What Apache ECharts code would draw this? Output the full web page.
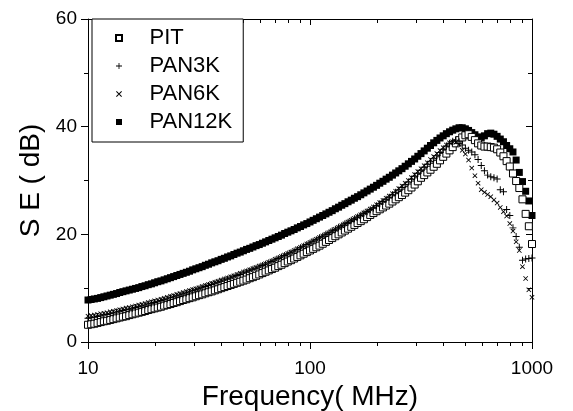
<!DOCTYPE html>
<html>
<head>
<meta charset="utf-8">
<style>
  html, body { margin: 0; padding: 0; background: #fff; }
  #chart { width: 573px; height: 411px; }
</style>
<script src="https://cdn.jsdelivr.net/npm/echarts@6.0.0/dist/echarts.min.js"></script>
</head>
<body>
<div id="chart"></div>
<script>
// ---- data ----
const freq = [
  10, 10.33, 10.68, 11.04, 11.41, 11.79, 12.18, 12.59, 13.01, 13.45,
  13.9, 14.36, 14.84, 15.34, 15.85, 16.38, 16.93, 17.49, 18.08, 18.68,
  19.31, 19.95, 20.62, 21.31, 22.02, 22.76, 23.52, 24.31, 25.12, 25.96,
  26.83, 27.73, 28.65, 29.61, 30.6, 31.62, 32.68, 33.77, 34.9, 36.07,
  37.28, 38.52, 39.81, 41.14, 42.52, 43.94, 45.41, 46.93, 48.5, 50.12,
  51.79, 53.53, 55.32, 57.17, 59.08, 61.05, 63.1, 65.21, 67.39, 69.64,
  71.97, 74.38, 76.86, 79.43, 82.09, 84.83, 87.67, 90.6, 93.63, 96.77,
  100, 103.3, 106.8, 110.4, 114.1, 117.9, 121.8, 125.9, 130.1, 134.5,
  139, 143.6, 148.4, 153.4, 158.5, 163.8, 169.3, 174.9, 180.8, 186.8,
  193.1, 199.5, 206.2, 213.1, 220.2, 227.6, 235.2, 243.1, 251.2, 259.6,
  268.3, 277.3, 286.5, 296.1, 306, 316.2, 326.8, 337.7, 349, 360.7,
  372.8, 385.2, 398.1, 411.4, 425.2, 439.4, 454.1, 469.3, 485, 501.2,
  517.9, 535.3, 553.2, 571.7, 590.8, 610.5, 631, 652.1, 673.9, 696.4,
  719.7, 743.8, 768.6, 794.3, 820.9, 848.3, 876.7, 906, 936.3, 967.7,
  1000
];

const pit = [
  3.2, 3.3, 3.4, 3.55, 3.7, 3.85, 3.95, 4.1, 4.25, 4.4, 4.55,
  4.7, 4.8, 5.0, 5.15, 5.3, 5.45, 5.6, 5.75, 5.95, 6.1,
  6.25, 6.4, 6.55, 6.75, 6.9, 7.05, 7.25, 7.4, 7.6, 7.8,
  7.95, 8.15, 8.3, 8.5, 8.7, 8.85, 9.05, 9.25, 9.4, 9.6,
  9.8, 10.0, 10.2, 10.4, 10.6, 10.8, 11.0, 11.2, 11.4, 11.6,
  11.85, 12.05, 12.3, 12.55, 12.8, 13.05, 13.3, 13.55, 13.8, 14.1,
  14.35, 14.65, 14.95, 15.2, 15.5, 15.8, 16.1, 16.4, 16.7, 17.0,
  17.3, 17.6, 17.9, 18.25, 18.6, 18.95, 19.3, 19.65, 20.0, 20.35,
  20.7, 21.05, 21.4, 21.75, 22.1, 22.45, 22.8, 23.2, 23.6, 23.95,
  24.3, 24.65, 25.0, 25.35, 25.7, 26.1, 26.5, 26.9, 27.3, 27.75,
  28.2, 28.7, 29.25, 29.85, 30.5, 31.0, 31.5, 32.0, 32.55, 33.1,
  33.75, 34.4, 35.0, 35.6, 36.2, 36.9, 37.5, 38.0, 38.4, 38.6,
  38.1, 37.5, 36.9, 36.5, 36.3, 36.3, 36.2, 36.1, 35.8, 35.2,
  34.5, 33.6, 32.6, 31.3, 29.9, 28.6, 26.5, 23.8, 21.5, 18.2
];

const pan3k = [
  4.4, 4.5, 4.6, 4.75, 4.85, 5.0, 5.1, 5.25, 5.4, 5.55, 5.7,
  5.85, 6.0, 6.1, 6.25, 6.4, 6.55, 6.7, 6.85, 7.05, 7.2,
  7.35, 7.5, 7.7, 7.85, 8.0, 8.2, 8.35, 8.55, 8.75, 8.9,
  9.1, 9.3, 9.5, 9.7, 9.9, 10.1, 10.3, 10.5, 10.7, 10.9,
  11.1, 11.3, 11.5, 11.7, 11.9, 12.1, 12.35, 12.55, 12.8, 13.0,
  13.25, 13.5, 13.7, 13.95, 14.2, 14.45, 14.7, 14.95, 15.25, 15.5,
  15.8, 16.05, 16.35, 16.6, 16.9, 17.2, 17.5, 17.8, 18.1, 18.4,
  18.7, 19.0, 19.35, 19.65, 20.0, 20.3, 20.65, 20.95, 21.3, 21.6,
  21.95, 22.25, 22.6, 22.9, 23.2, 23.55, 23.9, 24.2, 24.55, 24.9,
  25.3, 25.7, 26.1, 26.5, 26.9, 27.35, 27.8, 28.25, 28.7, 29.2,
  29.7, 30.25, 30.8, 31.35, 31.9, 32.45, 33.0, 33.5, 34.05, 34.6,
  35.2, 35.8, 36.4, 36.9, 37.3, 37.5, 37.2, 36.6, 36.0, 35.6,
  35.3, 34.8, 33.9, 32.8, 31.8, 31.0, 30.7, 30.5, 30.3, 28.3,
  27.9, 24.6, 23.5, 21.2, 19.6, 17.6, 15.2, 15.4, 15.5, 15.6
];

const pan6k = [
  4.8, 4.9, 5.0, 5.1, 5.25, 5.35, 5.45, 5.6, 5.7, 5.85, 6.0,
  6.15, 6.3, 6.4, 6.55, 6.7, 6.85, 7.0, 7.15, 7.35, 7.5,
  7.65, 7.8, 7.95, 8.15, 8.3, 8.5, 8.65, 8.85, 9.0, 9.2,
  9.4, 9.55, 9.75, 9.9, 10.1, 10.3, 10.5, 10.7, 10.9, 11.1,
  11.3, 11.5, 11.7, 11.9, 12.1, 12.3, 12.55, 12.75, 13.0, 13.2,
  13.4, 13.65, 13.85, 14.1, 14.3, 14.55, 14.8, 15.05, 15.35, 15.6,
  15.9, 16.15, 16.45, 16.7, 17.0, 17.3, 17.6, 17.9, 18.2, 18.5,
  18.8, 19.1, 19.4, 19.7, 20.0, 20.3, 20.65, 20.95, 21.3, 21.6,
  21.95, 22.3, 22.6, 22.95, 23.3, 23.65, 24.0, 24.35, 24.7, 25.1,
  25.5, 25.9, 26.3, 26.7, 27.1, 27.55, 28.0, 28.5, 29.0, 29.5,
  30.0, 30.55, 31.1, 31.65, 32.2, 32.75, 33.3, 33.9, 34.45, 35.0,
  35.55, 36.1, 36.6, 37.0, 37.2, 37.1, 36.7, 35.6, 34.9, 33.8,
  32.3, 30.9, 29.5, 28.3, 27.8, 27.4, 27.0, 26.4, 25.8, 25.0,
  24.2, 23.4, 22.0, 20.6, 18.6, 17.0, 14.0, 11.8, 9.7, 8.3
];

const pan12k = [
  7.8, 7.9, 8.0, 8.1, 8.25, 8.4, 8.55, 8.7, 8.85, 9.0, 9.2,
  9.35, 9.5, 9.65, 9.8, 9.95, 10.1, 10.3, 10.45, 10.65, 10.8,
  11.0, 11.2, 11.35, 11.55, 11.75, 11.95, 12.15, 12.35, 12.55, 12.75,
  12.95, 13.15, 13.4, 13.6, 13.8, 14.0, 14.25, 14.45, 14.7, 14.9,
  15.1, 15.35, 15.55, 15.8, 16.0, 16.25, 16.5, 16.7, 16.95, 17.2,
  17.4, 17.65, 17.9, 18.1, 18.35, 18.6, 18.85, 19.1, 19.35, 19.6,
  19.85, 20.15, 20.4, 20.65, 20.9, 21.2, 21.45, 21.75, 22.0, 22.3,
  22.6, 22.9, 23.2, 23.5, 23.8, 24.1, 24.4, 24.75, 25.05, 25.4,
  25.7, 26.05, 26.35, 26.7, 27.0, 27.35, 27.7, 28.05, 28.4, 28.75,
  29.1, 29.5, 29.85, 30.25, 30.6, 31.0, 31.4, 31.8, 32.2, 32.65,
  33.1, 33.55, 34.0, 34.5, 35.0, 35.5, 36.0, 36.5, 37.0, 37.45,
  37.9, 38.3, 38.7, 39.05, 39.35, 39.6, 39.8, 39.8, 39.6, 39.3,
  38.9, 38.5, 38.1, 38.0, 38.3, 38.7, 38.8, 38.6, 38.2, 37.7,
  37.2, 36.5, 35.9, 35.3, 33.8, 31.5, 29.8, 28.0, 26.2, 23.5
];

const seriesNames = ['PIT', 'PAN3K', 'PAN6K', 'PAN12K'];
const xMajorTicks = [10, 100, 1000];
const xMinorTicks = [20, 30, 40, 50, 60, 70, 80, 90, 200, 300, 400, 500, 600, 700, 800, 900];
const yMin = 0, yMax = 60, yStep = 20;
const xTitle = 'Frequency( MHz)';
const yTitle = 'S E ( dB)';

// ---- chart ----
const FONT = '"Liberation Sans", Arial, Helvetica, sans-serif';
const pairs = vals => freq.map((f, i) => [f, vals[i]]);
const SQUARE = 'path://M0,0H10V10H0Z';
const PLUS = 'path://M0,4.3H10V5.7H0Z M4.3,0H5.7V10H4.3Z';
const CROSS = 'path://M0,1.2L1.2,0L10,8.8L8.8,10Z M8.8,0L10,1.2L1.2,10L0,8.8Z';
const black = '#000';

function xAxisDef(pos, ticks, len, inside, withLabel, withLine) {
  return {
    type: 'log', logBase: 10, min: 10, max: 1000, position: pos,
    axisLine: { show: withLine, onZero: false, lineStyle: { color: black, width: 1 } },
    axisTick: { show: true, inside: inside, length: len, customValues: ticks, lineStyle: { color: black, width: 1 } },
    axisLabel: withLabel ? {
      show: true, customValues: ticks, margin: 17, color: black, fontSize: 19, fontFamily: FONT,
      showMinLabel: true, showMaxLabel: true, formatter: v => String(Math.round(v))
    } : { show: false },
    splitLine: { show: false }, minorTick: { show: false }, minorSplitLine: { show: false }
  };
}

const chart = echarts.init(document.getElementById('chart'), null, { renderer: 'canvas' });
const xa0 = xAxisDef('bottom', xMajorTicks, 7, false, true, true);
xa0.name = xTitle;
xa0.nameLocation = 'middle';
xa0.nameGap = 41;
xa0.nameTextStyle = { color: black, fontSize: 28, fontFamily: FONT };

chart.setOption({
  animation: false,
  backgroundColor: '#fff',
  grid: { left: 88, right: 41, top: 19, bottom: 69, containLabel: false, outerBoundsMode: 'none' },
  legend: {
    data: seriesNames,
    orient: 'vertical',
    left: 92, top: 19,
    padding: [7, 11, 8, 23],
    itemWidth: 47, itemHeight: 6, itemGap: 4,
    symbolKeepAspect: true,
    borderColor: black, borderWidth: 1, borderRadius: 0,
    backgroundColor: '#fff',
    textStyle: { color: black, fontSize: 22, fontFamily: FONT, lineHeight: 24, padding: [0, 0, 0, 2] }
  },
  xAxis: [
    xa0,
    xAxisDef('bottom', xMinorTicks, 4, false, false, false),
    xAxisDef('top', xMajorTicks, 6, true, false, true),
    xAxisDef('top', xMinorTicks, 4, true, false, false)
  ],
  yAxis: [
    {
      type: 'value', min: yMin, max: yMax, interval: yStep, position: 'left',
      name: yTitle, nameLocation: 'middle', nameGap: 41, nameRotate: 90,
      nameTextStyle: { color: black, fontSize: 28, fontFamily: FONT },
      axisLine: { show: true, onZero: false, lineStyle: { color: black, width: 1 } },
      axisTick: { show: true, inside: false, length: 7, lineStyle: { color: black, width: 1 } },
      minorTick: { show: true, splitNumber: 2, length: 4, lineStyle: { color: black, width: 1 } },
      axisLabel: { color: black, fontSize: 19, fontFamily: FONT, margin: 11 },
      splitLine: { show: false }
    },
    {
      type: 'value', min: yMin, max: yMax, interval: yStep, position: 'right',
      axisLine: { show: true, onZero: false, lineStyle: { color: black, width: 1 } },
      axisTick: { show: true, inside: true, length: 6, lineStyle: { color: black, width: 1 } },
      minorTick: { show: true, splitNumber: 2, length: 4, lineStyle: { color: black, width: 1 } },
      axisLabel: { show: false },
      splitLine: { show: false }
    }
  ],
  series: [
    {
      name: 'PAN12K', type: 'scatter', data: pairs(pan12k), z: 2,
      symbol: SQUARE, symbolSize: 7,
      itemStyle: { color: black, borderWidth: 0, opacity: 1 }
    },
    {
      name: 'PIT', type: 'scatter', data: pairs(pit), z: 3,
      symbol: SQUARE, symbolSize: 7,
      itemStyle: { color: '#fff', borderColor: black, borderWidth: 1, opacity: 1 }
    },
    {
      name: 'PAN3K', type: 'scatter', data: pairs(pan3k), z: 4,
      symbol: PLUS, symbolSize: 7,
      itemStyle: { color: black, borderWidth: 0, opacity: 1 }
    },
    {
      name: 'PAN6K', type: 'scatter', data: pairs(pan6k), z: 5,
      symbol: CROSS, symbolSize: 5,
      itemStyle: { color: black, borderWidth: 0, opacity: 1 }
    }
  ]
});
</script>
</body>
</html>
